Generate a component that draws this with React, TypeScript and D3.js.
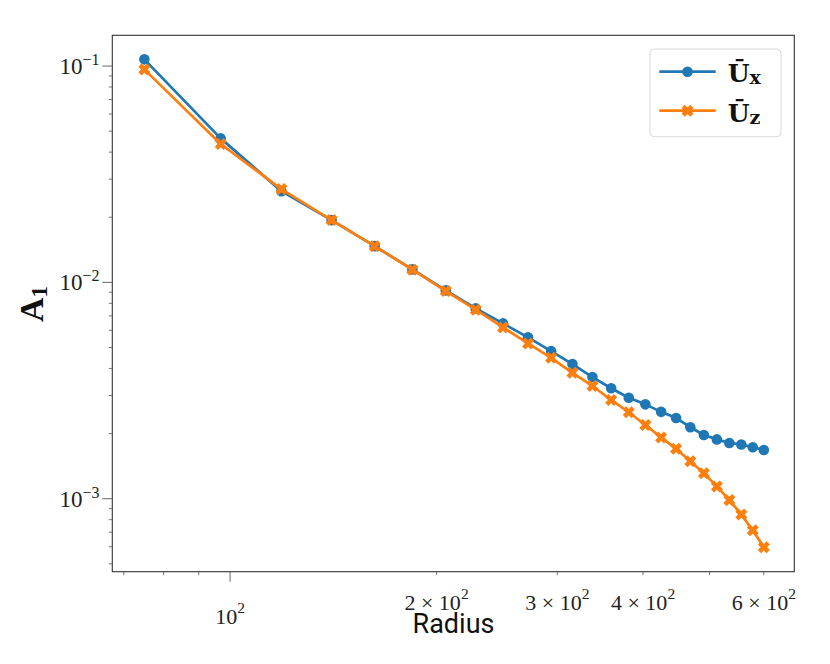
import React from 'react';
import * as d3 from 'd3';

// radius of each ring
const radius = [75, 96.9, 118.8, 140.6, 162.5, 184.4, 206.3, 228.1, 250, 271.9, 293.8, 315.6, 337.5,
    359.4, 381.3, 403.1, 425, 446.9, 468.8, 490.6, 512.5, 534.4, 556.3, 578.1, 600];

// A1 amplitude of the mean velocity components
const uxValues = [0.1074, 0.0463, 0.0264, 0.0194, 0.0147, 0.01148, 0.00918, 0.00758, 0.00646, 0.00557,
    0.00481, 0.00419, 0.00365, 0.00324, 0.00293, 0.00273, 0.00252, 0.00236, 0.00214, 0.00197,
    0.00188, 0.00181, 0.00178, 0.00173, 0.00168];
const uzValues = [0.0965, 0.0436, 0.0270, 0.0194, 0.0147, 0.01145, 0.00912, 0.00748, 0.00619, 0.00522,
    0.00448, 0.00382, 0.00332, 0.00286, 0.00251, 0.00219, 0.00192, 0.00170, 0.00149, 0.00131,
    0.00114, 0.000985, 0.000846, 0.000714, 0.000596];

const xMajorTicks = [100];
const xMinorTicks = [70, 80, 90, 200, 300, 400, 500, 600];
const xMinorLabels = [
    { value: 200, mant: '2' },
    { value: 300, mant: '3' },
    { value: 400, mant: '4' },
    { value: 600, mant: '6' }
];
const yMajorTicks = [
    { value: 0.1, exp: '\u22121' },
    { value: 0.01, exp: '\u22122' },
    { value: 0.001, exp: '\u22123' }
];
const yMinorTicks = [0.0005, 0.0006, 0.0007, 0.0008, 0.0009, 0.002, 0.003, 0.004, 0.005, 0.006, 0.007,
    0.008, 0.009, 0.02, 0.03, 0.04, 0.05, 0.06, 0.07, 0.08, 0.09];

const BLUE = '#1f77b4';
const ORANGE = '#ff7f0e';
const SERIF = '"Liberation Serif", "DejaVu Serif", serif';
const BOLD_SERIF = '"DejaVu Serif", "Liberation Serif", serif';

const W = 830;
const H = 664;
const margin = { top: 35.3, right: W - 794.3, bottom: H - 571.7, left: 112.3 };

// filled X marker (a plus turned by 45 degrees)
const xMarkerPath = (a: number, b: number) =>
    `M${-b},${-a}L${b},${-a}L${b},${-b}L${a},${-b}L${a},${b}L${b},${b}L${b},${a}L${-b},${a}L${-b},${b}L${-a},${b}L${-a},${-b}L${-b},${-b}Z`;

const App: React.FC = () => {
    const x = d3.scaleLog().domain([67.35, 664.6]).range([margin.left, W - margin.right]);
    const y = d3.scaleLog().domain([0.0004598, 0.1387]).range([H - margin.bottom, margin.top]);

    const line = d3.line<number>()
        .x((_, i) => x(radius[i]))
        .y(d => y(d));

    const bottom = H - margin.bottom;
    const left = margin.left;
    const xm = xMarkerPath(6.2, 2.3);

    return (
        <svg width={W} height={H} style={{ position: 'absolute', left: 0, top: 0, background: '#fff' }}>
            {/* lines */}
            <path d={line(uxValues) || ''} fill="none" stroke={BLUE} strokeWidth={2.7} strokeLinejoin="round" />
            {uxValues.map((v, i) => (
                <circle key={`ux${i}`} cx={x(radius[i])} cy={y(v)} r={5.3} fill={BLUE} />
            ))}
            <path d={line(uzValues) || ''} fill="none" stroke={ORANGE} strokeWidth={2.7} strokeLinejoin="round" />
            {uzValues.map((v, i) => (
                <path key={`uz${i}`} d={xm} transform={`translate(${x(radius[i])},${y(v)}) rotate(45)`} fill={ORANGE} />
            ))}

            {/* frame */}
            <rect x={left} y={margin.top} width={W - margin.right - left} height={bottom - margin.top}
                fill="none" stroke="#333" strokeWidth={1.1} />

            {/* x ticks */}
            {xMinorTicks.map(t => (
                <line key={`xm${t}`} x1={x(t)} x2={x(t)} y1={bottom} y2={bottom + 3.5} stroke="#555" strokeWidth={0.8} />
            ))}
            {xMajorTicks.map(t => (
                <g key={`xM${t}`}>
                    <line x1={x(t)} x2={x(t)} y1={bottom} y2={bottom + 10} stroke="#555" strokeWidth={0.9} />
                    <text x={x(t)} y={624} textAnchor="middle" fontFamily={SERIF} fontSize={22} fill="#222">
                        10<tspan fontSize={15.5} dy={-11}>2</tspan>
                    </text>
                </g>
            ))}
            {xMinorLabels.map(t => (
                <text key={`xl${t.value}`} x={x(t.value)} y={610} textAnchor="middle" fontFamily={SERIF} fontSize={22} fill="#222">
                    {t.mant} × 10<tspan fontSize={15.5} dy={-11}>2</tspan>
                </text>
            ))}

            {/* y ticks */}
            {yMinorTicks.map(t => (
                <line key={`ym${t}`} x1={left} x2={left - 3.5} y1={y(t)} y2={y(t)} stroke="#555" strokeWidth={0.8} />
            ))}
            {yMajorTicks.map(t => (
                <g key={`yM${t.value}`}>
                    <line x1={left} x2={left - 10} y1={y(t.value)} y2={y(t.value)} stroke="#555" strokeWidth={0.9} />
                    <text x={99.5} y={y(t.value) + 8} textAnchor="end" fontFamily={SERIF} fontSize={23} fill="#222">
                        10<tspan fontSize={16} dy={-9}>{t.exp}</tspan>
                    </text>
                </g>
            ))}

            {/* axis labels */}
            <text x={453.5} y={633} textAnchor="middle" fontFamily="Roboto, sans-serif" fontSize={27} fill="#111">
                Radius
            </text>
            <text transform="translate(43,304) rotate(-90)" textAnchor="middle" fontFamily={SERIF}
                fontWeight="bold" fontSize={34} fill="#111">
                A<tspan fontSize={23} dy={4}>1</tspan>
            </text>

            {/* legend */}
            <rect x={650} y={49} width={131} height={87.7} rx={4} fill="#fff" fillOpacity={0.8}
                stroke="#d9d9d9" strokeWidth={1} />
            <line x1={659.3} x2={715.7} y1={71.7} y2={71.7} stroke={BLUE} strokeWidth={2.7} />
            <circle cx={687.5} cy={71.7} r={5.3} fill={BLUE} />
            <text x={727.7} y={81.5} fontFamily={BOLD_SERIF} fontWeight="bold" fontSize={25} fill="#111">
                Ū<tspan fontSize={19} dy={2}>x</tspan>
            </text>
            <line x1={659.3} x2={715.7} y1={110.7} y2={110.7} stroke={ORANGE} strokeWidth={2.7} />
            <path d={xm} transform="translate(687.5,110.7) rotate(45)" fill={ORANGE} />
            <text x={727.7} y={121.5} fontFamily={BOLD_SERIF} fontWeight="bold" fontSize={25} fill="#111">
                Ū<tspan fontSize={19} dy={2}>z</tspan>
            </text>
        </svg>
    );
};

export default App;
